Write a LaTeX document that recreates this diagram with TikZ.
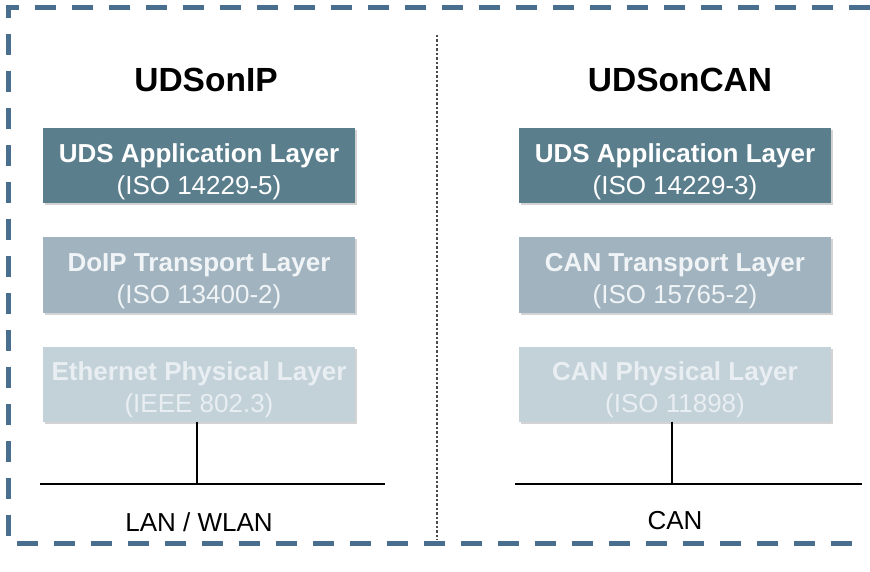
\documentclass[tikz,border=0pt]{standalone}
\usepackage{fontspec}
\setmainfont{Liberation Sans}
\usetikzlibrary{shadows}
\definecolor{frameblue}{HTML}{4A6E8E}
\definecolor{appfill}{HTML}{5B7E8D}
\definecolor{transfill}{HTML}{A0B3BF}
\definecolor{physfill}{HTML}{C3D1D9}
\definecolor{transtext}{HTML}{F0F4F6}
\definecolor{phystext}{HTML}{E8EEF1}
\definecolor{divider}{HTML}{4A4A4A}
\tikzset{
  layer/.style={rectangle, minimum width=312pt, minimum height=75pt, inner sep=0pt,
    align=center, font=\fontsize{26}{32}\selectfont, text height=62pt,
    drop shadow={shadow xshift=2pt, shadow yshift=-2pt, opacity=0.35, fill=gray}},
  applayer/.style={layer, fill=appfill, text=white},
  translayer/.style={layer, fill=transfill, text=transtext},
  physlayer/.style={layer, fill=physfill, text=phystext},
  title/.style={font=\bfseries\fontsize{33.5}{38}\selectfont},
  buslabel/.style={font=\fontsize{26}{30}\selectfont},
  bus/.style={line width=2.2pt, black},
  frame/.style={line width=5pt, frameblue, dash pattern=on 21pt off 16pt},
}
\begin{document}
\begin{tikzpicture}[x=1pt, y=-1pt]
\useasboundingbox (0,0) rectangle (870,572);
% outer dashed frame (open on the right)
\draw[frame] (870,8) -- (8,8) -- (8,543) -- (862,543);
% separator between the two stacks
\draw[divider, line width=1.3pt, dash pattern=on 2.5pt off 2pt] (437,35) -- (437,540);

% UDS on IP stack
\node[title] (tip) at (206,80) {UDSonIP};
\node[applayer] (appL) at (199,166) {\textbf{UDS Application Layer}\\(ISO 14229-5)};
\node[translayer] (trL) at (199,275) {\textbf{DoIP Transport Layer}\\(ISO 13400-2)};
\node[physlayer] (phL) at (199,384) {\textbf{Ethernet Physical Layer}\\(IEEE 802.3)};
\coordinate (busLa) at (40,484);
\coordinate (busLb) at (385,484);
\coordinate (tapL) at (197,484);
\draw[bus] (busLa) -- (busLb);
\draw[bus] (phL.south -| tapL) -- (tapL);
\node[buslabel] (lanlbl) at (199,522) {LAN / WLAN};

% UDS on CAN stack
\node[title] (tcan) at (680,80) {UDSonCAN};
\node[applayer] (appR) at (675,166) {\textbf{UDS Application Layer}\\(ISO 14229-3)};
\node[translayer] (trR) at (675,275) {\textbf{CAN Transport Layer}\\(ISO 15765-2)};
\node[physlayer] (phR) at (675,384) {\textbf{CAN Physical Layer}\\(ISO 11898)};
\coordinate (busRa) at (515,484);
\coordinate (busRb) at (862,484);
\coordinate (tapR) at (672,484);
\draw[bus] (busRa) -- (busRb);
\draw[bus] (phR.south -| tapR) -- (tapR);
\node[buslabel] (canlbl) at (675,521) {CAN};
\end{tikzpicture}
\end{document}
